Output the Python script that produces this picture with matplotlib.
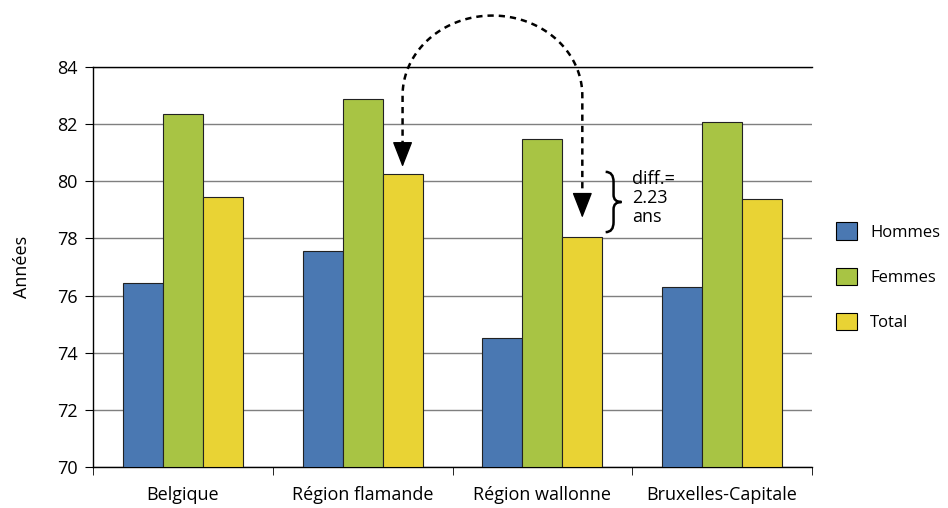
import numpy as np
import matplotlib
matplotlib.use("Agg")
import matplotlib.pyplot as plt
from matplotlib.path import Path
from matplotlib.patches import PathPatch

plt.rcParams['font.family'] = ['Open Sans', 'DejaVu Sans']

categories = ['Belgique', 'Région flamande', 'Région wallonne', 'Bruxelles-Capitale']
hommes = [76.45, 77.55, 74.5, 76.3]
femmes = [82.35, 82.88, 81.48, 82.08]
total = [79.45, 80.27, 78.04, 79.38]
series_names = ['Hommes', 'Femmes', 'Total']
colors = ['#4a78b2', '#a8c444', '#e9d334']

fs = 13

fig = plt.figure(figsize=(9.48, 5.08), dpi=100)
ax = fig.add_axes([93/948, 41/508, 719/948, 400/508])

x = np.arange(len(categories))
w = 40/180.
for i, (vals, name, col) in enumerate(zip([hommes, femmes, total], series_names, colors)):
    ax.bar(x + (i-1)*w, np.array(vals) - 70, w, bottom=70, color=col,
           edgecolor='#222222', linewidth=0.8, label=name, zorder=3)

ax.set_xlim(-0.5, 3.5)
ax.set_ylim(70, 84)
ax.set_yticks(range(70, 85, 2))
ax.yaxis.grid(True, color='#7f7f7f', linewidth=1, zorder=0)
ax.set_axisbelow(True)
ax.set_xticks(x)
ax.set_xticklabels(categories, fontsize=fs)
ax.set_xticks(np.arange(-0.5, 4, 1), minor=True)
ax.tick_params(axis='x', which='major', length=0, pad=14)
ax.tick_params(axis='x', which='minor', length=6, direction='out')
ax.tick_params(axis='y', length=6, direction='out', labelsize=fs, pad=5)
ax.spines['right'].set_visible(False)
for s in ['left', 'bottom', 'top']:
    ax.spines[s].set_linewidth(1)
    ax.spines[s].set_color('black')
ax.set_ylabel('Années', fontsize=fs, labelpad=19)

# dashed arc arrow from Flemish total to Walloon total
xl = x[1] + w
xr = x[2] + w
yc = 83.0
cx = (xl + xr) / 2.
rx = (xr - xl) / 2.
ry = 2.8
t = np.linspace(np.pi, 0, 100)
px = np.concatenate([[xl], cx + rx*np.cos(t), [xr]])
py = np.concatenate([[81.2], yc + ry*np.sin(t), [79.4]])
ax.plot(px, py, color='black', linewidth=1.8, linestyle=(0, (2.5, 2)), clip_on=False, zorder=5)
for xt, yt in [(xl, 80.5), (xr, 78.72)]:
    ax.annotate('', xy=(xt, yt), xytext=(xt, yt + 0.8),
                arrowprops=dict(arrowstyle='-|>,head_length=1.15,head_width=0.45',
                                color='black', lw=1, shrinkA=0, shrinkB=0,
                                mutation_scale=14), zorder=6, annotation_clip=False)

# brace
bx0, bx1 = 2.352, 2.44
ytop, ybot = 80.33, 78.22
ym = (ytop + ybot) / 2.
bw = bx1 - bx0
verts = [(bx0, ytop), (bx0 + bw*0.5, ytop), (bx0 + bw*0.5, ytop - 0.35),
         (bx0 + bw*0.5, ym + 0.25), (bx0 + bw*0.5, ym), (bx1, ym),
         (bx0 + bw*0.5, ym), (bx0 + bw*0.5, ym - 0.25),
         (bx0 + bw*0.5, ybot + 0.35), (bx0 + bw*0.5, ybot), (bx0, ybot)]
codes = [Path.MOVETO, Path.CURVE3, Path.CURVE3,
         Path.LINETO, Path.CURVE3, Path.CURVE3,
         Path.CURVE3, Path.CURVE3,
         Path.LINETO, Path.CURVE3, Path.CURVE3]
ax.add_patch(PathPatch(Path(verts, codes), facecolor='none', edgecolor='black',
                       linewidth=1.8, zorder=6, clip_on=False))
ax.text(2.5, 80.38, 'diff.=\n2.23\nans', fontsize=fs, va='top', ha='left',
        linespacing=1.05, zorder=6)

leg = ax.legend(loc='upper left', bbox_to_anchor=(1.024, 0.628), frameon=False,
                fontsize=12, handlelength=1.25, handleheight=1.25, labelspacing=1.6,
                handletextpad=0.8, borderaxespad=0)
for p in leg.get_patches():
    p.set_edgecolor('black')

fig.savefig('out.png', dpi=100)
